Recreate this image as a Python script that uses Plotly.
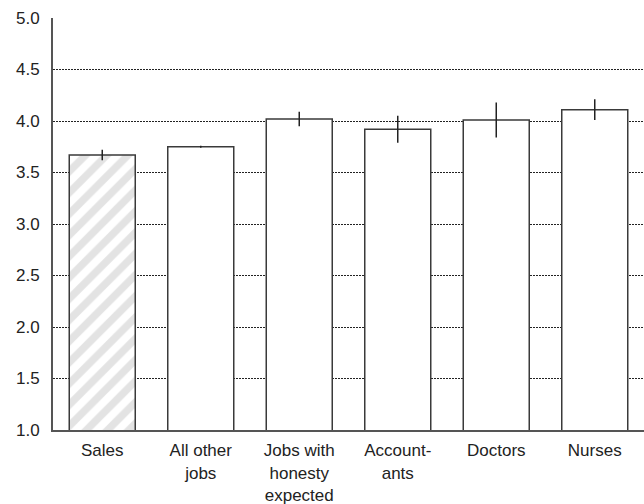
import plotly.graph_objects as go

categories = ["Sales", "All other<br>jobs", "Jobs with<br>honesty<br>expected", "Account-<br>ants", "Doctors", "Nurses"]
values = [3.67, 3.75, 4.02, 3.92, 4.01, 4.11]
errors = [0.05, 0.01, 0.07, 0.13, 0.17, 0.10]
tick_vals = [1.0, 1.5, 2.0, 2.5, 3.0, 3.5, 4.0, 4.5, 5.0]
tick_text = ["1.0", "1.5", "2.0", "2.5", "3.0", "3.5", "4.0", "4.5", "5.0"]

shapes = ["/", "", "", "", "", ""]

fig = go.Figure()
fig.add_trace(go.Bar(
    x=categories,
    y=values,
    base=0,
    width=0.67,
    marker=dict(
        color="white",
        line=dict(color="#3a3a3a", width=1.5),
        pattern=dict(shape=shapes, fgcolor="#c8c8c8", bgcolor="white", size=15, solidity=0.5),
    ),
    error_y=dict(type="data", array=errors, visible=True, color="#222222", thickness=1.5, width=0),
))

fig.update_layout(
    width=644, height=504,
    margin=dict(l=53, r=0, t=18, b=74),
    paper_bgcolor="white", plot_bgcolor="white",
    showlegend=False,
    font=dict(family="Liberation Sans, Arial, sans-serif", size=17, color="#222222"),
    bargap=0.33,
)
fig.update_yaxes(
    range=[1.0, 5.0],
    tickvals=tick_vals, ticktext=tick_text,
    showgrid=True, gridcolor="#222222", gridwidth=1, griddash="2px,1px",
    showline=True, linecolor="#555555", linewidth=2,
    ticks="", ticklabelstandoff=8,
    zeroline=False,
)
fig.update_xaxes(
    showline=True, linecolor="#555555", linewidth=2,
    ticks="", showgrid=False, ticklabelstandoff=4,
    range=[-0.5, 5.5],
)
fig.write_html("out.html")
